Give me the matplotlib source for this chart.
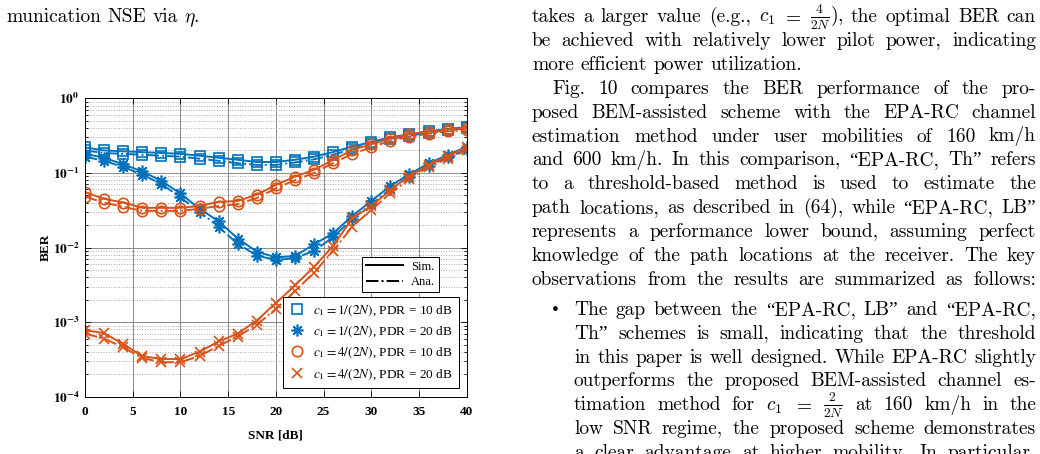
import numpy as np
import matplotlib
matplotlib.use("Agg")
import matplotlib.pyplot as plt
from matplotlib.lines import Line2D
from matplotlib.ticker import FuncFormatter, LogLocator, NullFormatter, MultipleLocator

# DATA

snr = np.arange(0, 41, 2)

sq_sim = [0.22, 0.20, 0.195, 0.19, 0.185, 0.18, 0.17, 0.16, 0.15, 0.14, 0.14,
          0.15, 0.165, 0.19, 0.225, 0.26, 0.30, 0.33, 0.36, 0.39, 0.41]
sq_ana = [0.20, 0.185, 0.18, 0.175, 0.17, 0.165, 0.155, 0.145, 0.135, 0.128, 0.128,
          0.138, 0.152, 0.175, 0.21, 0.245, 0.285, 0.315, 0.345, 0.375, 0.395]

st_sim = [0.18, 0.16, 0.13, 0.105, 0.078, 0.053, 0.033, 0.0225, 0.0132, 0.0088, 0.0074,
          0.0077, 0.011, 0.0155, 0.0264, 0.042, 0.067, 0.096, 0.134, 0.174, 0.224]
st_ana = [0.165, 0.145, 0.12, 0.095, 0.071, 0.047, 0.030, 0.019, 0.0112, 0.0078, 0.0068,
          0.0072, 0.009, 0.0138, 0.024, 0.038, 0.061, 0.089, 0.125, 0.162, 0.205]

ci_sim = [0.055, 0.045, 0.040, 0.034, 0.034, 0.034, 0.036, 0.041, 0.042, 0.051, 0.069,
          0.089, 0.11, 0.149, 0.203, 0.242, 0.29, 0.33, 0.356, 0.385, 0.40]
ci_ana = [0.048, 0.040, 0.035, 0.031, 0.031, 0.031, 0.033, 0.036, 0.038, 0.046, 0.062,
          0.080, 0.10, 0.135, 0.18, 0.22, 0.27, 0.305, 0.335, 0.36, 0.375]

x_sim = [7.8e-4, 7.1e-4, 5.1e-4, 3.5e-4, 3.2e-4, 3.2e-4, 4.0e-4, 5.5e-4, 7.0e-4, 1.05e-3, 1.8e-3,
         3.1e-3, 5.5e-3, 0.0105, 0.0245, 0.036, 0.059, 0.091, 0.128, 0.169, 0.22]
x_ana = [7.0e-4, 6.0e-4, 4.6e-4, 3.3e-4, 2.9e-4, 2.9e-4, 3.5e-4, 4.8e-4, 6.4e-4, 9.2e-4, 1.5e-3,
         2.6e-3, 4.6e-3, 9.0e-3, 0.019, 0.032, 0.053, 0.083, 0.12, 0.155, 0.20]

series_labels = [r"$c_1 = 1/(2N)$, PDR = 10 dB",
                 r"$c_1 = 1/(2N)$, PDR = 20 dB",
                 r"$c_1 = 4/(2N)$, PDR = 10 dB",
                 r"$c_1 = 4/(2N)$, PDR = 20 dB"]

# page text around the figure
left_lines = [r"munication NSE via $\eta$."]
right_lines = [
    r"takes a larger value (e.g., $c_1$ $=$ $\frac{4}{2N}$), the optimal BER can",
    "be achieved with relatively lower pilot power, indicating",
    "more efficient power utilization.",
    "Fig. 10 compares the BER performance of the pro-",
    "posed BEM-assisted scheme with the EPA-RC channel",
    "estimation method under user mobilities of 160 km/h",
    "and 600 km/h. In this comparison, \u201cEPA-RC, Th\u201d refers",
    "to a threshold-based method is used to estimate the",
    "path locations, as described in (64), while \u201cEPA-RC, LB\u201d",
    "represents a performance lower bound, assuming perfect",
    "knowledge of the path locations at the receiver. The key",
    "observations from the results are summarized as follows:",
]
bullet_lines = [
    "The gap between the \u201cEPA-RC, LB\u201d and \u201cEPA-RC,",
    "Th\u201d schemes is small, indicating that the threshold",
    "in this paper is well designed. While EPA-RC slightly",
    "outperforms the proposed BEM-assisted channel es-",
    r"timation method for $c_1$ $=$ $\frac{2}{2N}$ at 160 km/h in the",
    "low SNR regime, the proposed scheme demonstrates",
    "a clear advantage at higher mobility. In particular,",
]

W, H = 1040, 454
BLUE = "#0072BD"
ORANGE = "#D95319"
SERIF = "Liberation Serif"
PAGE_FONT = ["cmr10", "Liberation Serif"]
PAGE_SIZE = 14

plt.rcParams["font.family"] = SERIF
plt.rcParams["mathtext.fontset"] = "stix"

fig = plt.figure(figsize=(W / 100, H / 100), dpi=100)
renderer = fig.canvas.get_renderer()


# TEXT HELPERS


def put_line(text, x0, x1, y, size=PAGE_SIZE, justify=True):
    words = text.split(" ")
    objs = []
    for w in words:
        t = fig.text(0, 1 - y / H, w, fontsize=size, family=PAGE_FONT,
                     math_fontfamily="cm", va="baseline", ha="left")
        objs.append(t)
    widths = [t.get_window_extent(renderer).width for t in objs]
    if justify and len(objs) > 1:
        gap = (x1 - x0 - sum(widths)) / (len(objs) - 1)
    else:
        gap = size * 100 / 72 * 0.33
    x = x0
    for t, w in zip(objs, widths):
        t.set_x(x / W)
        x += w + gap


# PLOT

ax = fig.add_axes([85 / W, 1 - 396.7 / H, 381.7 / W, 298.4 / H])

styles = [
    (sq_sim, sq_ana, BLUE, "s", 6.5),
    (st_sim, st_ana, BLUE, (8, 2, 0), 8.5),
    (ci_sim, ci_ana, ORANGE, "o", 7.5),
    (x_sim, x_ana, ORANGE, "x", 6.5),
]

for sim, ana, col, mk, ms in styles:
    ax.plot(snr, sim, "-", color=col, lw=1.4, marker=mk, ms=ms,
            mfc="none", mec=col, mew=1.2)
    ax.plot(snr, ana, "-.", color=col, lw=1.4, marker=mk, ms=ms,
            mfc="none", mec=col, mew=1.2)

ax.set_yscale("log")
ax.set_xlim(0, 40)
ax.set_ylim(1e-4, 1)
ax.xaxis.set_major_locator(MultipleLocator(5))
ax.yaxis.set_major_locator(LogLocator(base=10, numticks=10))
ax.yaxis.set_minor_locator(LogLocator(base=10, subs=np.arange(2, 10), numticks=10))
ax.yaxis.set_major_formatter(FuncFormatter(lambda v, p: r"$\mathbf{10^{%d}}$" % round(np.log10(v))))
ax.yaxis.set_minor_formatter(NullFormatter())

ax.grid(True, which="major", color="#8a8a8a", lw=0.7)
ax.grid(True, which="minor", axis="y", ls=":", color="#a8a8a8", lw=0.7)
ax.set_axisbelow(True)

ax.tick_params(which="both", direction="in", top=True, right=True, width=0.6)
ax.tick_params(which="major", length=4, labelsize=9.5, pad=4)
ax.tick_params(axis="x", which="major", pad=7)
ax.tick_params(which="minor", length=2)
for lab in ax.get_xticklabels():
    lab.set_fontweight("bold")
for sp in ax.spines.values():
    sp.set_linewidth(0.7)

ax.set_xlabel("SNR [dB]", fontsize=9.5, fontweight="bold")
ax.set_ylabel("BER", fontsize=9.5, fontweight="bold")
ax.xaxis.set_label_coords(0.5, -0.11)
ax.yaxis.set_label_coords(-0.088, 0.5)

# line-style legend
style_handles = [Line2D([], [], color="black", lw=1.4, ls="-"),
                 Line2D([], [], color="black", lw=1.4, ls="-.")]
leg1 = ax.legend(style_handles, ["Sim.", "Ana."], loc="upper right",
                 bbox_to_anchor=(0.927, 0.468), borderaxespad=0, fontsize=9,
                 handlelength=3.0, handletextpad=0.6, labelspacing=0.25,
                 borderpad=0.3, fancybox=False, framealpha=1, edgecolor="black")
leg1.get_frame().set_linewidth(0.7)
ax.add_artist(leg1)

# marker legend
marker_handles = [Line2D([], [], ls="none", marker=mk, ms=ms, mfc="none",
                         mec=col, mew=1.2, color=col)
                  for _, _, col, mk, ms in styles]
leg2 = ax.legend(marker_handles, series_labels, loc="upper right",
                 bbox_to_anchor=(0.98, 0.334), borderaxespad=0, fontsize=9.6,
                 handlelength=1.2, handletextpad=0.6, labelspacing=0.5,
                 borderpad=0.45, fancybox=False, framealpha=1, edgecolor="black")
leg2.get_frame().set_linewidth(0.7)

# PAGE TEXT

put_line(left_lines[0], 6, 480, 22, justify=False)

LS = 23.9
y = 22
for i, line in enumerate(right_lines):
    x0 = 552 if line.startswith("Fig.") else 532
    put_line(line, x0, 1036, y, justify=(i != 2))
    y += LS

y += 6
fig.text(552 / W, 1 - y / H, "\u2022", fontsize=PAGE_SIZE, family=SERIF, va="baseline")
for line in bullet_lines:
    put_line(line, 574, 1036, y)
    y += LS

fig.savefig("out.png", dpi=100)
